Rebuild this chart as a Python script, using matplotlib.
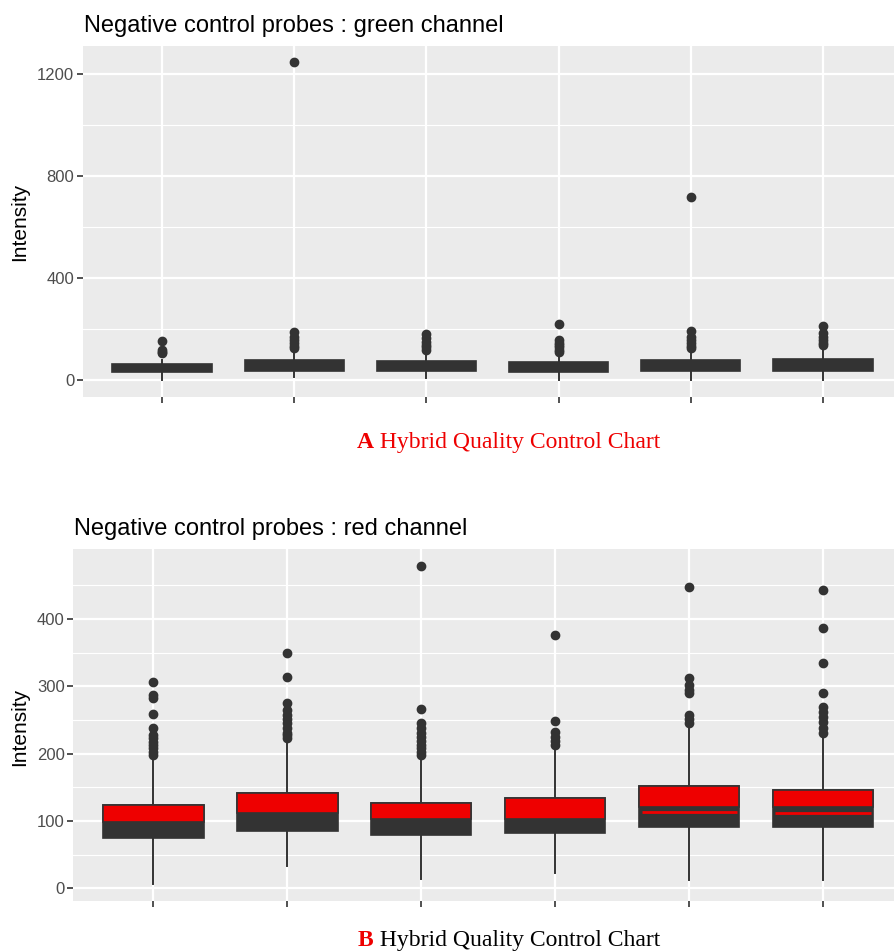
import matplotlib
matplotlib.use("Agg")
import matplotlib.pyplot as plt

plt.rcParams['font.family'] = ['Liberation Sans', 'DejaVu Sans']

positions = [1, 2, 3, 4, 5, 6]

# green channel (panel A)
green_lo = [0, 13, 8, 3, 3, 3]
green_q1 = [31, 36, 35, 33, 35, 35]
green_med = [45, 55, 54, 50, 55, 57]
green_q3 = [63, 78, 76, 71, 78, 82]
green_hi = [78, 118, 115, 105, 120, 125]
green_out = [
    [106, 112, 118, 154],
    [125, 135, 145, 158, 170, 188, 1247],
    [121, 130, 137, 150, 165, 180],
    [111, 120, 130, 137, 148, 157, 220],
    [127, 135, 146, 158, 170, 193, 718],
    [137, 146, 157, 170, 184, 213],
]
green_ticks = [0, 400, 800, 1200]
green_minor = [200, 600, 1000]

# red channel (panel B)
red_lo = [6, 33, 13, 22, 12, 12]
red_q1 = [74, 85, 79, 82, 91, 91]
red_med = [98, 112, 103, 103, 113, 112]
red_dark_top = [98, 112, 103, 103, 121, 120]
red_q3 = [123, 141, 126, 134, 152, 146]
red_hi = [198, 221, 197, 211, 243, 228]
red_out = [
    [198, 203, 208, 213, 217, 223, 228, 238, 259, 283, 287, 306],
    [223, 227, 231, 238, 245, 251, 257, 265, 275, 314, 350],
    [198, 203, 208, 213, 218, 225, 231, 238, 245, 266, 478],
    [213, 218, 225, 232, 249, 376],
    [245, 251, 257, 290, 295, 302, 312, 448],
    [231, 238, 247, 255, 262, 269, 290, 335, 387, 443],
]
red_ticks = [0, 100, 200, 300, 400]
red_minor = [50, 150, 250, 350, 450]

caption_a = ('A', ' Hybrid Quality Control Chart')
caption_b = ('B', ' Hybrid Quality Control Chart')

DARK = '#333333'
RED = '#EE0000'
PANEL = '#EBEBEB'


def make_stats(lo, q1, med, q3, hi, out):
    stats = []
    for i in range(len(lo)):
        stats.append({'whislo': lo[i], 'q1': q1[i], 'med': med[i],
                      'q3': q3[i], 'whishi': hi[i], 'fliers': out[i]})
    return stats


def style_panel(ax, ticks, minor, ylim):
    ax.set_facecolor(PANEL)
    for s in ax.spines.values():
        s.set_visible(False)
    ax.set_xlim(0.4, 6.6)
    ax.set_ylim(*ylim)
    ax.set_xticks(positions)
    ax.set_xticklabels([''] * len(positions))
    ax.set_yticks(ticks)
    ax.set_yticklabels([str(t) for t in ticks])
    ax.set_yticks(minor, minor=True)
    ax.set_axisbelow(True)
    ax.grid(True, which='major', color='white', linewidth=1.6)
    ax.grid(True, which='minor', axis='y', color='white', linewidth=0.8)
    ax.tick_params(which='major', length=4, width=1.2, color=DARK,
                   labelsize=12, labelcolor='#4D4D4D', pad=2)
    ax.tick_params(which='minor', length=0)


def draw_boxes(ax, stats):
    return ax.bxp(stats, positions=positions, widths=0.75, patch_artist=True,
                  boxprops=dict(facecolor=DARK, edgecolor=DARK, linewidth=1.2),
                  whiskerprops=dict(color=DARK, linewidth=1.4),
                  capprops=dict(linewidth=0),
                  medianprops=dict(color=DARK, linewidth=1.4),
                  flierprops=dict(marker='o', markerfacecolor=DARK,
                                  markeredgecolor=DARK, markersize=6),
                  manage_ticks=False)


fig = plt.figure(figsize=(8.94, 9.52), dpi=100)

# Panel A
ax1 = fig.add_axes([82.7 / 894, 1 - 397 / 952, (902.3 - 82.7) / 894, (397 - 46) / 952])
draw_boxes(ax1, make_stats(green_lo, green_q1, green_med, green_q3, green_hi, green_out))
style_panel(ax1, green_ticks, green_minor, (-65, 1310))

# Panel B
ax2 = fig.add_axes([73.0 / 894, 1 - 901 / 952, (903.4 - 73.0) / 894, (901 - 549) / 952])
res = draw_boxes(ax2, make_stats(red_lo, red_q1, red_med, red_q3, red_hi, red_out))
heights = [q3 - d for q3, d in zip(red_q3, red_dark_top)]
ax2.bar(positions, heights, bottom=red_dark_top, width=0.75, color=RED,
        edgecolor=DARK, linewidth=1.2, zorder=3)
for m, med, top in zip(res['medians'], red_med, red_dark_top):
    # thin red median line, only shown where it sits inside the dark part
    m.set_color(RED)
    m.set_linewidth(2)
    m.set_solid_capstyle('butt')
    m.set_zorder(2.5)
    m.set_visible(med < top)
    xs = m.get_xdata()
    m.set_xdata([xs[0] + 0.02, xs[1] - 0.02])
style_panel(ax2, red_ticks, red_minor, (-19, 504))

# titles and axis labels
fig.text(84 / 894, 1 - 32 / 952, 'Negative control probes : green channel',
         fontsize=17, color='black', ha='left', va='baseline')
fig.text(74 / 894, 1 - 535 / 952, 'Negative control probes : red channel',
         fontsize=17, color='black', ha='left', va='baseline')
fig.text(20 / 894, 1 - 221.5 / 952, 'Intensity', rotation=90, fontsize=15,
         ha='center', va='center')
fig.text(20 / 894, 1 - 727 / 952, 'Intensity', rotation=90, fontsize=15,
         ha='center', va='center')

# captions: bold red letter followed by plain text
serif = ['Liberation Serif', 'DejaVu Serif']
ta = fig.text(357 / 894, 1 - 448 / 952, caption_a[0], fontsize=17,
              fontweight='bold', color=RED, family=serif, ha='left', va='baseline')
tb = fig.text(358 / 894, 1 - 946 / 952, caption_b[0], fontsize=17,
              fontweight='bold', color=RED, family=serif, ha='left', va='baseline')

fig.canvas.draw()
r = fig.canvas.get_renderer()
for t, rest, col in [(ta, caption_a[1], RED), (tb, caption_b[1], 'black')]:
    bb = t.get_window_extent(renderer=r)
    fig.text(bb.x1 / fig.bbox.width, t.get_position()[1], rest, fontsize=17,
             color=col, family=serif, ha='left', va='baseline')

fig.savefig('out.png', dpi=100)
